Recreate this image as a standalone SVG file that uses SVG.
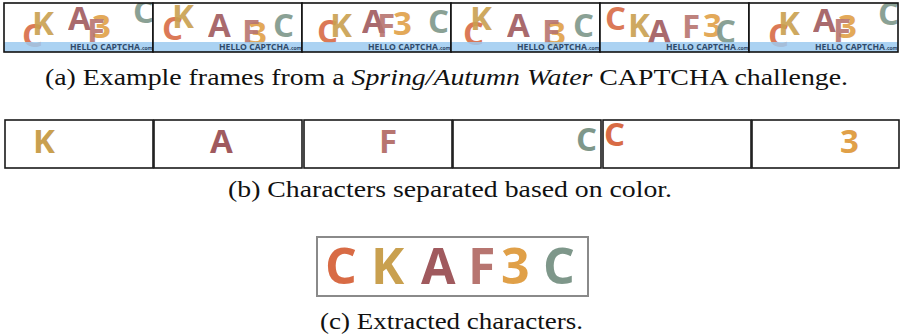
<svg xmlns="http://www.w3.org/2000/svg" width="901" height="335" viewBox="0 0 901 335">
  <style>
    .ch { font-family: "Open Sans", "DejaVu Sans", sans-serif; font-weight: 700; }
    .fr .ch { font-size: 33px; opacity: 0.9; }
    .co { fill: #d86b45; }
    .ck { fill: #c9a04f; }
    .ca { fill: #a05a5e; }
    .cf { fill: #b77570; }
    .c3 { fill: #e0a048; }
    .cg { fill: #7e978a; }
    .band { fill: #9ccaf0; opacity: 0.85; }
    .brand { font-family: "Open Sans", "Liberation Sans", sans-serif; font-weight: 700; font-size: 9.5px; fill: #2f4a6a; }
    .brand-s { font-size: 5px; }
    .frame { fill: none; stroke: #111; stroke-width: 1.6; }
    .box { fill: #fff; stroke: #1a1a1a; stroke-width: 1.6; }
    .mid { font-size: 33px; }
    .big { font-size: 50px; }
    .cap { font-family: "Liberation Serif", "DejaVu Serif", serif; font-size: 24px; fill: #111; }
  </style>
  <defs>
    <clipPath id="fclip"><rect x="0" y="0" width="149" height="49"/></clipPath>
    <!-- blue band and brand line shared by every frame -->
    <g id="brandline">
      <rect class="band" x="0" y="39" width="149" height="10"/>
      <text class="brand" x="66" y="47" textLength="70" lengthAdjust="spacingAndGlyphs">HELLO CAPTCHA</text>
      <text class="brand brand-s" x="136.5" y="47">.com</text>
    </g>
  </defs>
  <rect width="901" height="335" fill="#fff"/>

  <!-- (a) animated frames -->
  <g id="frames" class="fr">
    <g id="frame1" transform="translate(4,3)">
      <g clip-path="url(#fclip)">
        <rect width="149" height="49" fill="#fff"/>
        <text class="ch co" x="18" y="44">C</text>
        <text class="ch ck" x="28" y="32">K</text>
        <text class="ch ca" x="64" y="27">A</text>
        <text class="ch c3" x="88" y="35">3</text>
        <text class="ch cf" x="83" y="39">F</text>
        <text class="ch cg" x="129" y="20">C</text>
        <use href="#brandline"/>
      </g>
      <rect class="frame" width="149" height="49"/>
    </g>
    <g id="frame2" transform="translate(153,3)">
      <g clip-path="url(#fclip)">
        <rect width="149" height="49" fill="#fff"/>
        <text class="ch co" x="9" y="37">C</text>
        <text class="ch ck" x="19" y="25">K</text>
        <text class="ch ca" x="55" y="34">A</text>
        <text class="ch c3" x="95" y="42">3</text>
        <text class="ch cf" x="89" y="40">F</text>
        <text class="ch cg" x="120" y="34">C</text>
        <use href="#brandline"/>
      </g>
      <rect class="frame" width="149" height="49"/>
    </g>
    <g id="frame3" transform="translate(302,3)">
      <g clip-path="url(#fclip)">
        <rect width="149" height="49" fill="#fff"/>
        <text class="ch co" x="15" y="40">C</text>
        <text class="ch ck" x="28" y="34">K</text>
        <text class="ch ca" x="60" y="30">A</text>
        <text class="ch cf" x="75" y="34">F</text>
        <text class="ch c3" x="91" y="32">3</text>
        <text class="ch cg" x="126" y="30">C</text>
        <use href="#brandline"/>
      </g>
      <rect class="frame" width="149" height="49"/>
    </g>
    <g id="frame4" transform="translate(451,3)">
      <g clip-path="url(#fclip)">
        <rect width="149" height="49" fill="#fff"/>
        <text class="ch co" x="12" y="42">C</text>
        <text class="ch ck" x="19" y="27">K</text>
        <text class="ch ca" x="56" y="34">A</text>
        <text class="ch c3" x="96" y="42">3</text>
        <text class="ch cf" x="91" y="40">F</text>
        <text class="ch cg" x="122" y="34">C</text>
        <use href="#brandline"/>
      </g>
      <rect class="frame" width="149" height="49"/>
    </g>
    <g id="frame5" transform="translate(600,3)">
      <g clip-path="url(#fclip)">
        <rect width="149" height="49" fill="#fff"/>
        <text class="ch co" x="5" y="27">C</text>
        <text class="ch ck" x="28" y="34">K</text>
        <text class="ch ca" x="48" y="40">A</text>
        <text class="ch cf" x="82" y="35">F</text>
        <text class="ch c3" x="103" y="34">3</text>
        <text class="ch cg" x="115" y="40">C</text>
        <use href="#brandline"/>
      </g>
      <rect class="frame" width="149" height="49"/>
    </g>
    <g id="frame6" transform="translate(749,3)">
      <g clip-path="url(#fclip)">
        <rect width="149" height="49" fill="#fff"/>
        <text class="ch co" x="19" y="44">C</text>
        <text class="ch ck" x="29" y="32">K</text>
        <text class="ch ca" x="64" y="29">A</text>
        <text class="ch c3" x="89" y="35">3</text>
        <text class="ch cf" x="84" y="39">F</text>
        <text class="ch cg" x="129" y="22">C</text>
        <use href="#brandline"/>
      </g>
      <rect class="frame" width="149" height="49"/>
    </g>
  </g>
  <text class="cap" x="45" y="85" textLength="803" lengthAdjust="spacingAndGlyphs">(a) Example frames from a <tspan font-style="italic">Spring/Autumn Water</tspan> CAPTCHA challenge.</text>

  <!-- (b) colour-separated layers -->
  <g id="layers">
    <g id="layer-k"><rect class="box" x="5" y="120" width="148" height="48"/><text class="ch mid ck" x="33" y="153">K</text></g>
    <g id="layer-a"><rect class="box" x="154" y="120" width="148" height="48"/><text class="ch mid ca" x="210" y="153">A</text></g>
    <g id="layer-f"><rect class="box" x="304" y="120" width="148" height="48"/><text class="ch mid cf" x="379" y="153">F</text></g>
    <g id="layer-cg"><rect class="box" x="453" y="120" width="148" height="48"/><text class="ch mid cg" x="576" y="151">C</text></g>
    <g id="layer-co"><rect class="box" x="603" y="120" width="148" height="48"/><text class="ch mid co" x="604" y="146">C</text></g>
    <g id="layer-3"><rect class="box" x="752" y="120" width="147" height="48"/><text class="ch mid c3" x="840" y="153">3</text></g>
  </g>
  <text class="cap" x="228" y="197" textLength="444" lengthAdjust="spacingAndGlyphs">(b) Characters separated based on color.</text>

  <!-- (c) extracted result -->
  <g id="result">
    <rect x="317" y="237" width="271" height="59" fill="#fff" stroke="#8a8a8a" stroke-width="2"/>
    <text class="ch big co" x="325" y="284">C</text>
    <text class="ch big ck" x="371" y="284">K</text>
    <text class="ch big ca" x="421" y="284">A</text>
    <text class="ch big cf" x="468" y="284">F</text>
    <text class="ch big c3" x="501" y="284">3</text>
    <text class="ch big cg" x="543" y="284">C</text>
  </g>
  <text class="cap" x="320" y="329" textLength="263" lengthAdjust="spacingAndGlyphs">(c) Extracted characters.</text>
</svg>
